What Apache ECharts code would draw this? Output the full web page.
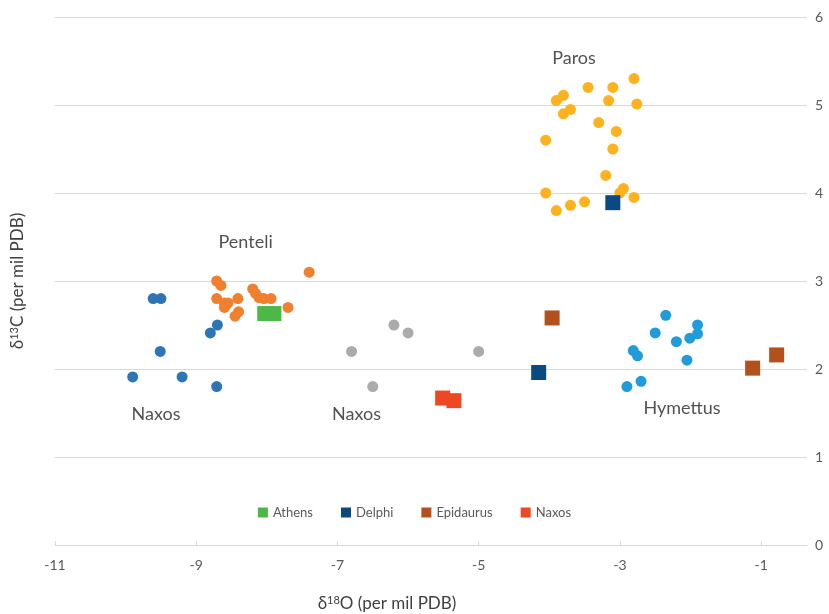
<!DOCTYPE html>
<html><head><meta charset="utf-8">
<script src="https://cdn.jsdelivr.net/npm/echarts@6/dist/echarts.min.js"></script>
<style>html,body{margin:0;padding:0;background:#fff}#c{width:829px;height:614px}</style>
</head><body><div id="c"></div>
<script>
// δ18O, δ13C
const naxosBlue = [[-9.61,2.80],[-9.50,2.80],[-9.51,2.20],[-9.90,1.91],[-9.20,1.91],[-8.71,1.80],[-8.80,2.41],[-8.70,2.50]];
const penteli = [[-8.71,3.00],[-8.65,2.95],[-8.71,2.80],[-8.60,2.75],[-8.55,2.75],[-8.60,2.70],[-8.41,2.80],[-8.40,2.65],[-8.45,2.60],[-8.20,2.91],[-8.16,2.86],[-8.11,2.81],[-8.04,2.80],[-7.94,2.80],[-7.70,2.70],[-7.40,3.10]];
const naxosGray = [[-6.80,2.20],[-6.20,2.50],[-6.00,2.41],[-6.50,1.80],[-5.00,2.20]];
const paros = [[-2.80,5.30],[-3.45,5.20],[-3.10,5.20],[-3.80,5.11],[-3.90,5.05],[-3.16,5.05],[-2.76,5.01],[-3.70,4.95],[-3.80,4.90],[-3.30,4.80],[-3.05,4.70],[-4.05,4.60],[-3.10,4.50],[-3.20,4.20],[-2.95,4.05],[-3.00,4.00],[-4.05,4.00],[-2.80,3.95],[-3.50,3.90],[-3.70,3.86],[-3.90,3.80]];
const hymettus = [[-2.35,2.61],[-1.90,2.50],[-2.50,2.41],[-1.90,2.40],[-2.01,2.35],[-2.20,2.31],[-2.81,2.21],[-2.75,2.15],[-2.05,2.10],[-2.70,1.86],[-2.90,1.80]];
const athens = [[-8.03,2.63],[-7.90,2.63]];
const delphi = [[-4.15,1.96],[-3.10,3.89]];
const epidaurus = [[-3.96,2.58],[-1.12,2.01],[-0.78,2.16]];
const naxosSq = [[-5.51,1.67],[-5.35,1.64]];
const groupLabels = [[-8.3,3.44,'Penteli'],[-9.57,1.49,'Naxos'],[-6.73,1.49,'Naxos'],[-3.65,5.53,'Paros'],[-2.12,1.56,'Hymettus']];
const xTicks = [-11,-9,-7,-5,-3,-1];
const yTicks = [0,1,2,3,4,5,6];

const FONT = 'Lato, "Noto Sans", sans-serif';
const chart = echarts.init(document.getElementById('c'), null, {renderer:'canvas'});
const circ = (name, data, color) => ({name, type:'scatter', data, symbol:'circle', symbolSize:11, itemStyle:{color, opacity:1}, z:2});
const sq = (name, data, color) => ({name, type:'scatter', data, symbol:'rect', symbolSize:15, itemStyle:{color, opacity:1}, z:3});
const titleRich = {a:{fontSize:17, fill:'#404040', fontFamily:FONT, lineHeight:20}, s:{fontSize:11, fill:'#404040', fontFamily:FONT, padding:[0,0,8,0], lineHeight:20}};
chart.setOption({
  animation:false,
  textStyle:{fontFamily:FONT},
  grid:{left:55, right:22, top:17, bottom:69},
  xAxis:{type:'value', min:-11, max:-0.35, interval:2,
    axisLine:{show:true, onZero:false, lineStyle:{color:'#D9D9D9', width:1}},
    axisTick:{show:true, inside:true, length:4, lineStyle:{color:'#D9D9D9'}},
    axisLabel:{color:'#595959', fontSize:14, margin:13, showMaxLabel:false,
      formatter:v => xTicks.includes(Math.round(v*100)/100) ? String(v) : ''},
    splitLine:{show:false}},
  yAxis:{type:'value', position:'right', min:0, max:6, interval:1,
    axisLine:{show:false}, axisTick:{show:false},
    axisLabel:{color:'#595959', fontSize:14, margin:8, formatter:v => yTicks.includes(v) ? String(v) : ''},
    splitLine:{show:true, lineStyle:{color:'#D9D9D9', width:1}}},
  legend:{data:['Athens','Delphi','Epidaurus','Naxos'], bottom:90, left:'center', icon:'rect',
    itemWidth:10, itemHeight:10, itemGap:28, textStyle:{color:'#595959', fontSize:13, fontFamily:FONT}},
  graphic:[
    {type:'text', x:387, y:604, style:{
      text:'{a|δ}{s|18}{a|O (per mil PDB)}', align:'center', verticalAlign:'middle', rich:titleRich}},
    {type:'text', x:18, y:281, rotation:Math.PI/2, style:{
      text:'{a|δ}{s|13}{a|C (per mil PDB)}', align:'center', verticalAlign:'middle', rich:titleRich}}
  ],
  series:[
    circ('Naxos (q)', naxosBlue, '#2E75B6'),
    circ('Penteli', penteli, '#F07F2E'),
    circ('Naxos (q2)', naxosGray, '#ABABAB'),
    circ('Paros', paros, '#FDB21E'),
    circ('Hymettus', hymettus, '#219CDB'),
    sq('Athens', athens, '#4CB848'),
    sq('Delphi', delphi, '#0B4A80'),
    sq('Epidaurus', epidaurus, '#B2501E'),
    sq('Naxos', naxosSq, '#EE4823'),
    {name:'labels', type:'scatter', data:groupLabels.map(d=>({value:[d[0],d[1]], name:d[2]})), symbolSize:0, silent:true,
      label:{show:true, position:'inside', formatter:p=>p.name, color:'#262626', fontSize:18, fontFamily:FONT}}
  ]
});
</script></body></html>
